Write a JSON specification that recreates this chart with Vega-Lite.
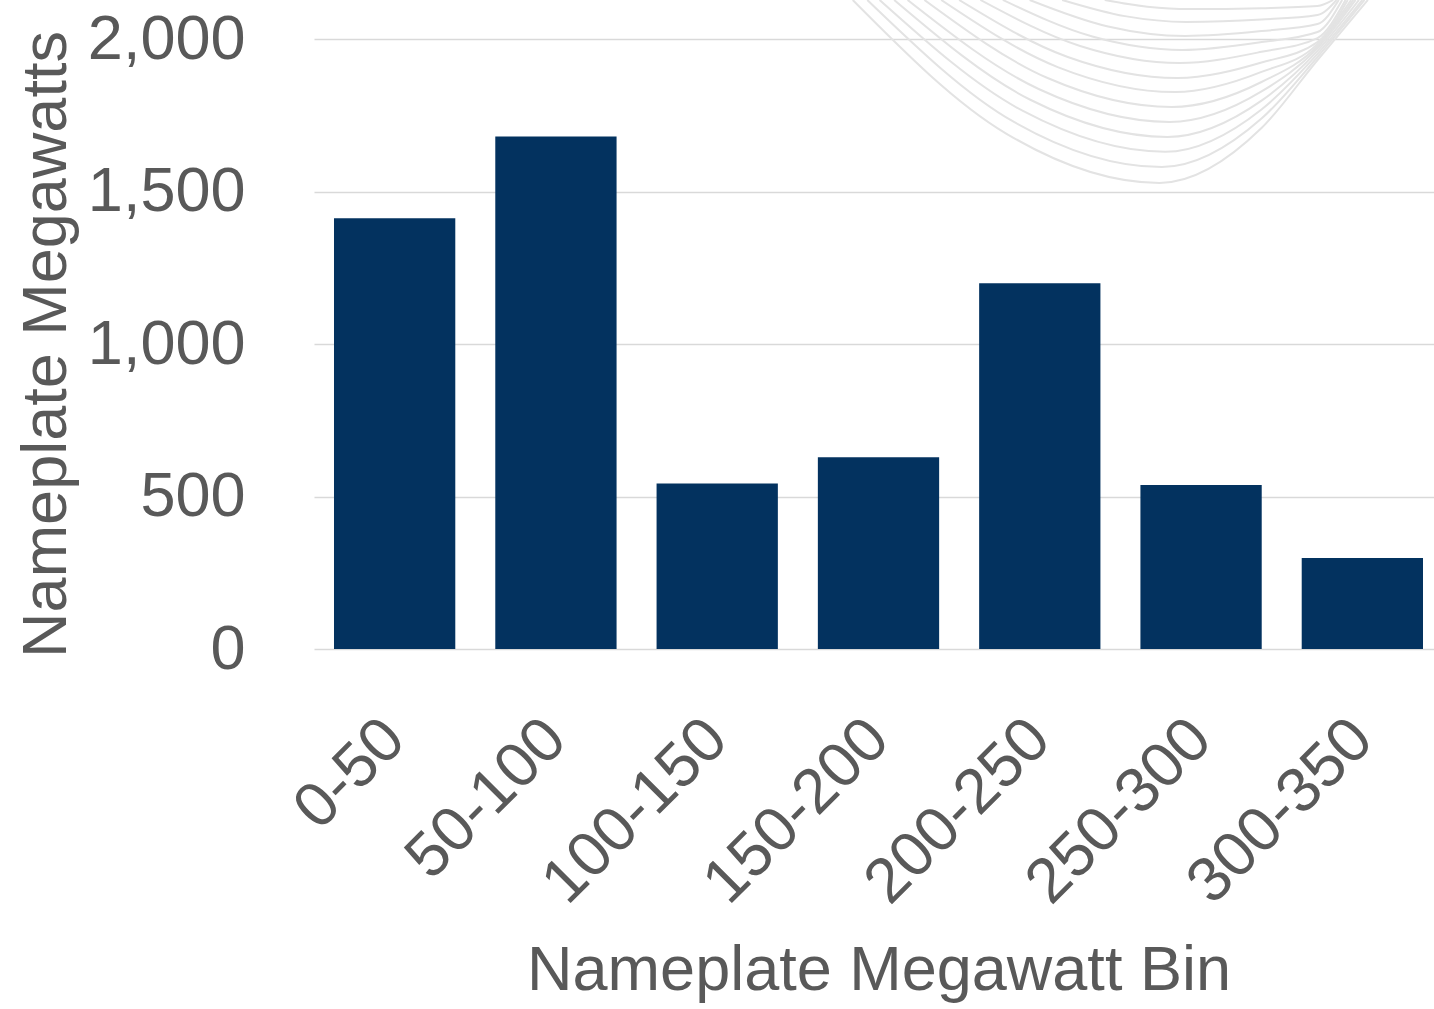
{
  "$schema": "https://vega.github.io/schema/vega-lite/v6.json",
  "width": 1120,
  "height": 610,
  "autosize": {"type": "none"},
  "padding": {"left": 314, "top": 39, "right": 0, "bottom": 360},
  "background": "white",
  "config": {
    "view": {"stroke": null},
    "font": "Liberation Sans, Arial, sans-serif"
  },
  "datasets": {
    "bins": [
      {"bin": "0-50", "mw": 1412},
      {"bin": "50-100", "mw": 1680},
      {"bin": "100-150", "mw": 543},
      {"bin": "150-200", "mw": 629},
      {"bin": "200-250", "mw": 1199},
      {"bin": "250-300", "mw": 538},
      {"bin": "300-350", "mw": 298}
    ],
    "swoosh": [
      {"curve": 0, "across": 48.1, "height": 2128}, {"curve": 0, "across": 61.8, "height": 1690}, {"curve": 0, "across": 75.5, "height": 1528}, {"curve": 0, "across": 84.6, "height": 1708}, {"curve": 0, "across": 89.6, "height": 1931}, {"curve": 0, "across": 94.1, "height": 2128},
      {"curve": 1, "across": 49.4, "height": 2128}, {"curve": 1, "across": 62.5, "height": 1728}, {"curve": 1, "across": 75.7, "height": 1580}, {"curve": 1, "across": 84.6, "height": 1739}, {"curve": 1, "across": 89.6, "height": 1941}, {"curve": 1, "across": 93.8, "height": 2128},
      {"curve": 2, "across": 50.5, "height": 2128}, {"curve": 2, "across": 63.3, "height": 1764}, {"curve": 2, "across": 76.0, "height": 1630}, {"curve": 2, "across": 84.6, "height": 1769}, {"curve": 2, "across": 89.6, "height": 1951}, {"curve": 2, "across": 93.6, "height": 2128},
      {"curve": 3, "across": 51.8, "height": 2128}, {"curve": 3, "across": 64.0, "height": 1800}, {"curve": 3, "across": 76.2, "height": 1679}, {"curve": 3, "across": 84.6, "height": 1798}, {"curve": 3, "across": 89.6, "height": 1961}, {"curve": 3, "across": 93.3, "height": 2128},
      {"curve": 4, "across": 53.0, "height": 2128}, {"curve": 4, "across": 64.7, "height": 1836}, {"curve": 4, "across": 76.4, "height": 1728}, {"curve": 4, "across": 84.6, "height": 1828}, {"curve": 4, "across": 89.6, "height": 1970}, {"curve": 4, "across": 93.0, "height": 2128},
      {"curve": 5, "across": 54.5, "height": 2128}, {"curve": 5, "across": 65.5, "height": 1872}, {"curve": 5, "across": 76.6, "height": 1777}, {"curve": 5, "across": 84.6, "height": 1859}, {"curve": 5, "across": 89.6, "height": 1977}, {"curve": 5, "across": 92.8, "height": 2128},
      {"curve": 6, "across": 56.0, "height": 2128}, {"curve": 6, "across": 66.4, "height": 1908}, {"curve": 6, "across": 76.9, "height": 1826}, {"curve": 6, "across": 84.6, "height": 1892}, {"curve": 6, "across": 89.6, "height": 1984}, {"curve": 6, "across": 92.6, "height": 2128},
      {"curve": 7, "across": 57.6, "height": 2128}, {"curve": 7, "across": 67.3, "height": 1941}, {"curve": 7, "across": 77.1, "height": 1872}, {"curve": 7, "across": 84.6, "height": 1923}, {"curve": 7, "across": 89.6, "height": 1990}, {"curve": 7, "across": 92.3, "height": 2128},
      {"curve": 8, "across": 59.5, "height": 2128}, {"curve": 8, "across": 68.4, "height": 1977}, {"curve": 8, "across": 77.3, "height": 1921}, {"curve": 8, "across": 84.6, "height": 1958}, {"curve": 8, "across": 89.6, "height": 2003}, {"curve": 8, "across": 92.1, "height": 2128},
      {"curve": 9, "across": 61.5, "height": 2128}, {"curve": 9, "across": 69.5, "height": 2008}, {"curve": 9, "across": 77.5, "height": 1964}, {"curve": 9, "across": 84.6, "height": 1990}, {"curve": 9, "across": 89.6, "height": 2023}, {"curve": 9, "across": 91.8, "height": 2128},
      {"curve": 10, "across": 63.9, "height": 2128}, {"curve": 10, "across": 70.8, "height": 2042}, {"curve": 10, "across": 77.8, "height": 2010}, {"curve": 10, "across": 84.6, "height": 2026}, {"curve": 10, "across": 89.6, "height": 2049}, {"curve": 10, "across": 91.5, "height": 2128},
      {"curve": 11, "across": 66.8, "height": 2128}, {"curve": 11, "across": 72.4, "height": 2075}, {"curve": 11, "across": 77.9, "height": 2056}, {"curve": 11, "across": 84.6, "height": 2064}, {"curve": 11, "across": 89.6, "height": 2079}, {"curve": 11, "across": 91.3, "height": 2128},
      {"curve": 12, "across": 70.6, "height": 2128}, {"curve": 12, "across": 74.4, "height": 2106}, {"curve": 12, "across": 78.2, "height": 2098}, {"curve": 12, "across": 84.6, "height": 2101}, {"curve": 12, "across": 89.6, "height": 2108}, {"curve": 12, "across": 91.0, "height": 2128}
    ]
  },
  "layer": [
    {
      "data": {"name": "bins"},
      "mark": {"type": "bar", "color": "#03325f"},
      "encoding": {
        "x": {
          "field": "bin",
          "type": "nominal",
          "sort": null,
          "scale": {"range": [0, 1129], "paddingInner": 0.248, "paddingOuter": 0.124},
          "axis": {
            "title": "Nameplate Megawatt Bin",
            "labelAngle": -45,
            "labelAlign": "right",
            "labelBaseline": "middle",
            "labelFontSize": 63,
            "labelLimit": 1000,
            "labelColor": "#595959",
            "labelPadding": 80,
            "ticks": false,
            "domain": false,
            "grid": false,
            "titleFontSize": 63,
            "titleFontWeight": "normal",
            "titleColor": "#595959",
            "titlePadding": 90
          }
        },
        "y": {
          "field": "mw",
          "type": "quantitative",
          "scale": {"domain": [0, 2000], "nice": false},
          "axis": {
            "title": "Nameplate Megawatts",
            "values": [0, 500, 1000, 1500, 2000],
            "format": ",.0f",
            "grid": true,
            "gridColor": "#d9d9d9",
            "gridWidth": 1.5,
            "domain": false,
            "ticks": false,
            "labelPadding": 69,
            "labelFontSize": 63,
            "labelLimit": 1000,
            "labelColor": "#595959",
            "titleFontSize": 63,
            "titleFontWeight": "normal",
            "titleColor": "#595959",
            "titlePadding": 36
          }
        }
      }
    },
    {
      "data": {"name": "swoosh"},
      "mark": {"type": "line", "interpolate": "monotone", "stroke": "#e3e3e3", "strokeWidth": 2, "clip": false},
      "encoding": {
        "x": {"field": "across", "type": "quantitative", "scale": {"domain": [0, 100], "nice": false, "zero": false}, "axis": null},
        "y": {"field": "height", "type": "quantitative", "scale": {"domain": [0, 2000], "nice": false}, "axis": null},
        "detail": {"field": "curve", "type": "nominal"}
      }
    }
  ],
  "resolve": {"scale": {"x": "independent", "y": "independent"}}
}
